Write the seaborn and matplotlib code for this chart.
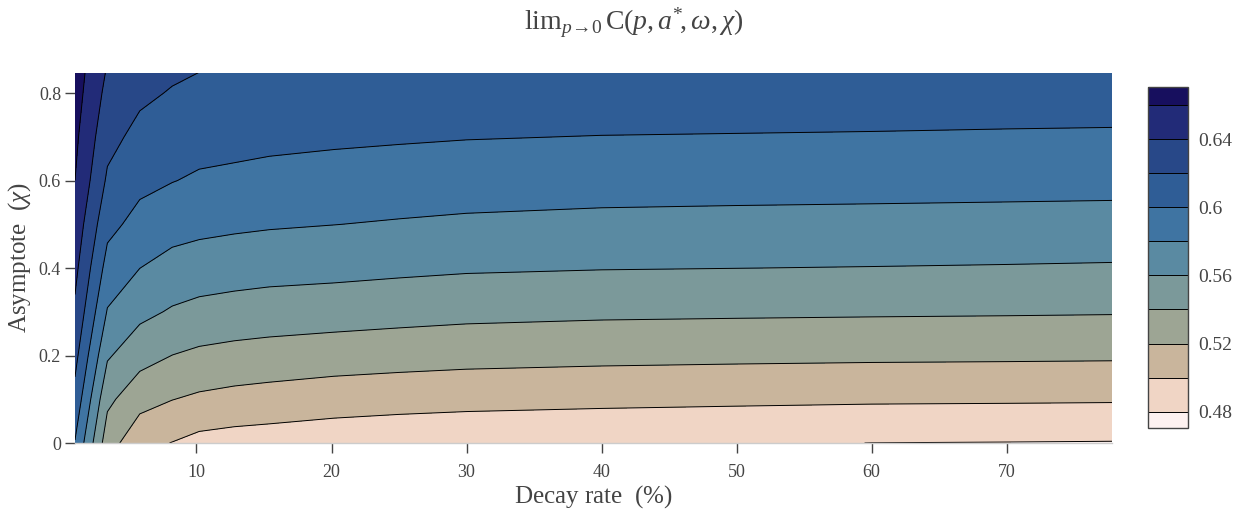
import numpy as np
import matplotlib
matplotlib.use("Agg")
import matplotlib.pyplot as plt
from matplotlib.colors import ListedColormap, BoundaryNorm
import seaborn as sns

# Donnees

decay_rate = [1, 3.4, 5.8, 8.2, 10.2, 12.8, 15.4, 20.2, 25, 30, 40, 50, 60, 70, 77.8]
asymptote = [0, 0.1, 0.2, 0.3, 0.4, 0.5, 0.6, 0.7, 0.8, 0.85]

# une ligne par taux de decroissance, une colonne par asymptote
limite_c = [
    [0.599, 0.6137, 0.626, 0.6367, 0.6451, 0.6525, 0.66, 0.6642, 0.6685, 0.670],
    [0.529, 0.5444, 0.5623, 0.5787, 0.5927, 0.6055, 0.6171, 0.6261, 0.6343, 0.6383],
    [0.5055, 0.5273, 0.5472, 0.5651, 0.5801, 0.5936, 0.6049, 0.6143, 0.6239, 0.6268],
    [0.4995, 0.5204, 0.5398, 0.558, 0.5733, 0.5874, 0.6006, 0.6096, 0.6186, 0.623],
    [0.494, 0.5167, 0.5362, 0.5544, 0.5707, 0.585, 0.5975, 0.6071, 0.6159, 0.6202],
    [0.4917, 0.514, 0.5338, 0.5522, 0.5687, 0.5832, 0.5958, 0.6061, 0.6153, 0.6196],
    [0.4905, 0.5122, 0.5322, 0.5506, 0.5671, 0.5818, 0.594, 0.6048, 0.6145, 0.6193],
    [0.488, 0.5091, 0.5298, 0.5489, 0.5657, 0.5802, 0.5919, 0.6033, 0.6135, 0.6185],
    [0.4862, 0.5073, 0.528, 0.547, 0.5638, 0.5785, 0.5905, 0.602, 0.6125, 0.6175],
    [0.4849, 0.5059, 0.5264, 0.5452, 0.5621, 0.5769, 0.5892, 0.6008, 0.6118, 0.617],
    [0.4834, 0.5044, 0.5249, 0.5435, 0.5607, 0.5752, 0.5879, 0.5996, 0.6112, 0.6165],
    [0.4818, 0.5034, 0.524, 0.5428, 0.5601, 0.5745, 0.5873, 0.5991, 0.6105, 0.616],
    [0.4799, 0.5025, 0.5233, 0.5422, 0.5595, 0.574, 0.5868, 0.5986, 0.61, 0.6155],
    [0.4795, 0.5021, 0.5229, 0.5417, 0.5588, 0.5734, 0.5863, 0.5979, 0.6095, 0.6152],
    [0.4791, 0.5017, 0.5225, 0.5412, 0.5581, 0.5729, 0.5859, 0.5975, 0.6091, 0.615],
]

niveaux = [0.4705, 0.48, 0.50, 0.52, 0.54, 0.56, 0.58, 0.60, 0.62, 0.64, 0.66, 0.6705]
lignes = [0.48, 0.50, 0.52, 0.54, 0.56, 0.58, 0.60, 0.62, 0.64, 0.66]
couleurs = ["#fdf1f0", "#f0d5c5", "#c9b59c", "#9da594", "#7b999a", "#5a8aa2",
            "#3f74a2", "#2f5d96", "#284888", "#222b78", "#170f5e"]
ticks_cb = [0.48, 0.52, 0.56, 0.6, 0.64]

# Style

sns.set_theme(style="ticks")
plt.rcParams['font.family'] = ['Liberation Serif', 'DejaVu Serif']
plt.rcParams['mathtext.fontset'] = 'custom'
plt.rcParams['mathtext.rm'] = 'Liberation Serif'
plt.rcParams['mathtext.it'] = 'Liberation Serif:italic'
gris = "#444444"

X, Y = np.meshgrid(decay_rate, asymptote)
Z = np.array(limite_c).T

palette = sns.color_palette(couleurs)
cmap = ListedColormap(palette)
norm = BoundaryNorm(niveaux, cmap.N)

fig = plt.figure(figsize=(12.39, 5.15), dpi=100)
ax = fig.add_axes([0.0605, 0.1398, 0.837, 0.7185])
cax = fig.add_axes([0.9266, 0.169, 0.0323, 0.662])

cf = ax.contourf(X, Y, Z, levels=niveaux, cmap=cmap, norm=norm)
cs = ax.contour(X, Y, Z, levels=lignes, colors="black", linewidths=0.7)

ax.set_xlim(1, 77.8)
ax.set_ylim(0, 0.846)
ax.set_xticks([10, 20, 30, 40, 50, 60, 70])
ax.set_yticks([0, 0.2, 0.4, 0.6, 0.8])
ax.set_yticklabels(["0", "0.2", "0.4", "0.6", "0.8"])
ax.tick_params(axis="both", colors=gris, labelsize=13, length=7, width=1, pad=3, labelcolor=gris)
ax.tick_params(axis="x", pad=8)
for s in ["top", "right", "left"]:
    ax.spines[s].set_visible(False)
ax.spines["bottom"].set_color("#cccccc")
ax.spines["bottom"].set_linewidth(1)

ax.set_xlabel(r"Decay rate  $(\%)$", fontsize=18, color=gris, labelpad=2)
ax.set_ylabel(r"Asymptote  $(\chi)$", fontsize=18, color=gris, labelpad=4)

fig.text(0.511, 0.955,
         r"$\mathrm{lim}_{p\!\rightarrow\!\mathit{0}}\,\mathrm{C}(p,a^{*}\!,\omega,\chi)$",
         ha="center", va="center", fontsize=20, color=gris)

cbar = fig.colorbar(cf, cax=cax, ticks=ticks_cb, spacing="proportional")
cbar.add_lines(cs)
cbar.ax.minorticks_off()
cbar.ax.set_yticks(ticks_cb)
cbar.ax.set_yticklabels(["0.48", "0.52", "0.56", "0.6", "0.64"])
cbar.ax.tick_params(which="both", length=0, labelsize=14, labelcolor=gris, pad=7)
cbar.outline.set_edgecolor(gris)
cbar.outline.set_linewidth(1)

plt.savefig("out.png", dpi=100)
